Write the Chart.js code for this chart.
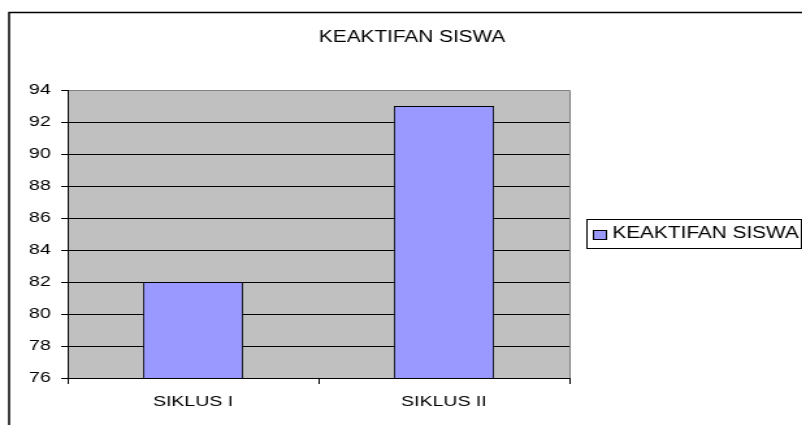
<!DOCTYPE html>
<html>
<head>
    <title>Keaktifan Siswa</title>
    <script src="https://cdn.jsdelivr.net/npm/chart.js@4.4.0/dist/chart.umd.min.js"></script>
    <style>
        body { margin: 0; background: #fff; overflow: hidden; }
        /* the reference is a horizontally stretched Excel picture */
        #wrap { width: 617px; height: 425px; transform: scaleX(1.3); transform-origin: 0 0; }
    </style>
</head>
<body>
    <div id="wrap">
        <canvas id="myChart" width="617" height="425"></canvas>
    </div>

    <script>
        var chartTitle = "KEAKTIFAN SISWA";
        var seriesLabel = "KEAKTIFAN SISWA";
        var categories = ["SIKLUS I", "SIKLUS II"];
        var keaktifan = [82, 93];
        var yMin = 76;
        var yMax = 94;
        var yStep = 2;

        var fontName = "'Liberation Sans', Arial, sans-serif";

        // background, outer frame, title and the boxed legend
        var excelLook = {
            id: "excelLook",
            beforeDraw(chart) {
                var ctx = chart.ctx;
                var a = chart.chartArea;
                ctx.save();
                ctx.fillStyle = "#ffffff";
                ctx.fillRect(0, 0, chart.width, chart.height);
                ctx.fillStyle = "#c0c0c0";
                ctx.fillRect(a.left, a.top, a.right - a.left, a.bottom - a.top);
                ctx.strokeStyle = "#808080";
                ctx.lineWidth = 1;
                ctx.beginPath();
                ctx.moveTo(a.left, a.top + 0.5);
                ctx.lineTo(a.right + 0.5, a.top + 0.5);
                ctx.lineTo(a.right + 0.5, a.bottom);
                ctx.stroke();
                ctx.restore();
            },
            afterDraw(chart) {
                var ctx = chart.ctx;
                ctx.save();
                // outer frame
                ctx.strokeStyle = "#000000";
                ctx.lineWidth = 1.5;
                ctx.beginPath();
                ctx.moveTo(7, chart.height);
                ctx.lineTo(7, 12.5);
                ctx.lineTo(chart.width, 12.5);
                ctx.stroke();

                // title
                ctx.fillStyle = "#000000";
                ctx.font = "16px " + fontName;
                ctx.textAlign = "center";
                ctx.textBaseline = "middle";
                ctx.fillText(chartTitle, 317, 38);

                // legend
                var ds = chart.data.datasets[0];
                ctx.lineWidth = 1;
                ctx.strokeStyle = "#000000";
                ctx.strokeRect(451.5, 219.5, 165, 29);
                ctx.fillStyle = ds.backgroundColor;
                ctx.fillRect(456.5, 230.5, 10, 9);
                ctx.strokeRect(456.5, 230.5, 10, 9);
                ctx.fillStyle = "#000000";
                ctx.textAlign = "left";
                ctx.fillText(ds.label, 471, 234);
                ctx.restore();
            }
        };

        var ctx = document.getElementById("myChart").getContext("2d");
        new Chart(ctx, {
            type: "bar",
            data: {
                labels: categories,
                datasets: [{
                    label: seriesLabel,
                    data: keaktifan,
                    backgroundColor: "#9999ff",
                    borderColor: "#000000",
                    borderWidth: 1,
                    categoryPercentage: 1,
                    barPercentage: 0.4
                }]
            },
            options: {
                responsive: false,
                animation: false,
                devicePixelRatio: 1,
                layout: {
                    padding: { left: 0, top: 90, right: 179, bottom: 0 }
                },
                plugins: {
                    legend: { display: false },
                    title: { display: false },
                    tooltip: { enabled: false }
                },
                scales: {
                    x: {
                        afterFit(scale) { scale.height = 47; },
                        grid: {
                            offset: true,
                            drawOnChartArea: false,
                            color: "#000000",
                            tickLength: 6
                        },
                        border: { color: "#000000", width: 1 },
                        ticks: {
                            color: "#000000",
                            padding: 9,
                            font: { family: fontName, size: 15 }
                        }
                    },
                    y: {
                        min: yMin,
                        max: yMax,
                        afterFit(scale) { scale.width = 52; },
                        grid: {
                            color: function (c) {
                                return c.tick && c.tick.value === yMax ? "#808080" : "#000000";
                            },
                            tickColor: "#000000",
                            tickLength: 5
                        },
                        border: { color: "#000000", width: 1 },
                        ticks: {
                            stepSize: yStep,
                            color: "#000000",
                            padding: 8,
                            font: { family: fontName, size: 15 }
                        }
                    }
                }
            },
            plugins: [excelLook]
        });
    </script>
</body>
</html>
